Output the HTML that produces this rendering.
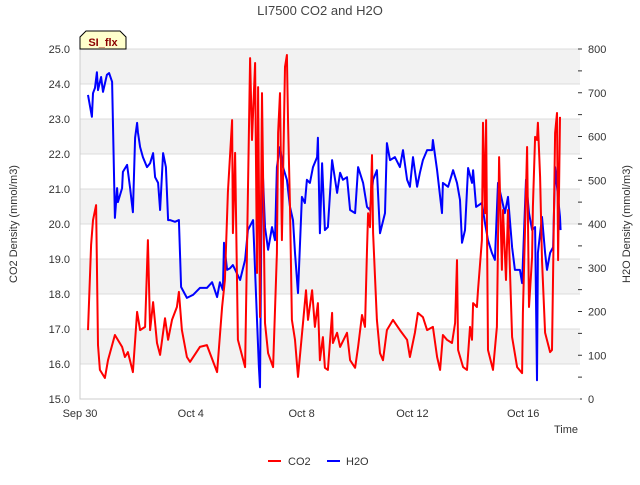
<!DOCTYPE html>
<html><head><meta charset="utf-8"><style>
body{margin:0;background:#fff;}
svg text{font-family:"Liberation Sans",sans-serif;}
</style></head><body>
<svg id="chart" width="640" height="480" viewBox="0 0 640 480" xmlns="http://www.w3.org/2000/svg">
<text x="320" y="15" text-anchor="middle" font-size="13" fill="#444">LI7500 CO2 and H2O</text>
<g id="grid"></g>
<g id="axes"></g>
<g id="series"></g>
<text transform="translate(17,224) rotate(-90)" text-anchor="middle" font-size="11" fill="#333">CO2 Density (mmol/m3)</text>
<text transform="translate(630,224) rotate(-90)" text-anchor="middle" font-size="11" fill="#333">H2O Density (mmol/m3)</text>
<text x="566" y="433" text-anchor="middle" font-size="11" fill="#333">Time</text>
<g>
<path d="M80,49 L80,37 L86,31 L120,31 L126,37 L126,49 Z" fill="#ffffcc" stroke="#000" stroke-width="1"/>
<text x="103" y="46" text-anchor="middle" font-size="11" font-weight="bold" fill="#8b0000">SI_flx</text>
</g>
<g>
<g><line x1="268" y1="461" x2="281" y2="461" stroke="#f00" stroke-width="2"/><text x="288" y="465" font-size="11" fill="#333">CO2</text></g>
<g><line x1="327" y1="461" x2="340" y2="461" stroke="#00f" stroke-width="2"/><text x="346" y="465" font-size="11" fill="#333">H2O</text></g>
</g>
</svg>
<script>
const xTickLabels=["Sep 30","Oct 4","Oct 8","Oct 12","Oct 16"];
const xTickDays=[0,4,8,12,16];
const leftTicks=[15,16,17,18,19,20,21,22,23,24,25];
const rightTicks=[0,100,200,300,400,500,600,700,800];
const co2Days=[0.29,0.40,0.47,0.58,0.65,0.72,0.90,1.01,1.26,1.52,1.62,1.73,1.91,2.06,2.17,2.35,2.45,2.53,2.64,2.78,2.89,3.07,3.18,3.32,3.50,3.57,3.68,3.86,3.97,4.33,4.58,4.95,5.13,5.23,5.34,5.49,5.52,5.60,5.70,5.96,6.14,6.21,6.32,6.39,6.43,6.50,6.57,6.68,6.79,6.97,7.11,7.15,7.22,7.29,7.40,7.47,7.51,7.58,7.65,7.76,7.87,8.05,8.16,8.23,8.38,8.48,8.59,8.66,8.77,8.84,8.95,9.10,9.13,9.28,9.39,9.64,9.75,9.93,10.04,10.18,10.29,10.36,10.40,10.47,10.54,10.58,10.65,10.72,10.83,10.94,11.08,11.30,11.55,11.81,11.91,12.09,12.20,12.38,12.53,12.74,12.89,13.00,13.10,13.25,13.43,13.54,13.61,13.65,13.83,13.97,14.08,14.15,14.19,14.33,14.37,14.51,14.55,14.62,14.66,14.73,14.91,15.05,15.13,15.23,15.27,15.38,15.45,15.60,15.78,15.96,15.99,16.14,16.21,16.32,16.35,16.43,16.50,16.53,16.61,16.68,16.79,16.97,17.04,17.08,17.15,17.22,17.26,17.33];
const co2Values=[16.97,19.40,20.11,20.54,16.54,15.83,15.60,16.11,16.83,16.49,16.20,16.34,15.77,17.49,16.97,17.06,19.54,16.97,17.77,16.60,16.26,17.31,16.69,17.26,17.63,18.06,16.97,16.20,16.06,16.49,16.54,15.77,17.63,18.40,20.91,22.97,19.74,22.03,16.69,15.91,24.74,22.40,24.60,18.60,23.91,17.34,23.74,17.17,16.31,15.91,19.17,22.60,23.74,19.54,24.49,24.83,22.97,20.49,17.26,16.69,15.63,17.17,18.11,17.26,18.11,17.06,17.74,16.11,16.77,15.89,15.83,17.46,16.60,16.89,16.49,16.89,16.11,15.89,16.49,17.40,17.06,19.26,20.31,19.91,21.97,19.74,18.49,17.26,16.31,16.11,16.97,17.26,16.97,16.69,16.20,16.89,17.46,17.34,16.97,17.06,16.20,15.83,16.83,16.69,16.60,17.17,18.97,16.40,15.91,15.83,17.06,16.69,17.74,17.63,18.11,19.54,22.89,20.31,22.97,16.40,15.83,17.06,21.91,18.69,20.40,18.40,20.40,16.77,15.91,15.74,17.46,22.20,17.63,19.06,20.49,22.49,22.40,22.89,21.34,18.97,16.89,16.34,16.40,18.60,22.60,23.17,18.97,23.06];
const h2oDays=[0.29,0.43,0.47,0.54,0.61,0.65,0.76,0.83,0.97,1.05,1.16,1.26,1.34,1.37,1.52,1.55,1.70,1.81,1.91,1.99,2.06,2.09,2.17,2.27,2.42,2.53,2.64,2.71,2.82,2.89,3.00,3.10,3.18,3.25,3.43,3.57,3.65,3.86,4.08,4.33,4.58,4.77,4.95,5.05,5.16,5.20,5.31,5.42,5.52,5.78,5.96,6.06,6.25,6.39,6.46,6.50,6.57,6.68,6.79,6.93,7.04,7.11,7.22,7.33,7.47,7.58,7.69,7.76,7.87,8.01,8.12,8.19,8.30,8.41,8.56,8.59,8.66,8.74,8.84,8.95,9.10,9.28,9.39,9.49,9.64,9.75,9.93,10.04,10.22,10.36,10.47,10.58,10.72,10.83,11.01,11.08,11.19,11.37,11.55,11.66,11.81,11.91,12.02,12.17,12.27,12.38,12.53,12.71,12.74,12.89,13.07,13.10,13.29,13.47,13.61,13.72,13.79,13.90,14.01,14.15,14.19,14.30,14.51,14.62,14.73,14.87,14.98,15.09,15.23,15.34,15.45,15.60,15.70,15.88,15.96,16.10,16.21,16.32,16.43,16.50,16.53,16.68,16.79,16.86,16.97,17.08,17.15,17.22,17.33,17.35];
const h2oValues=[695,645,699,711,747,706,736,702,741,745,725,414,482,450,482,519,535,482,427,597,631,610,576,553,530,539,562,507,494,432,562,530,409,409,405,409,256,231,238,254,254,267,233,267,249,357,295,299,306,272,318,386,409,181,73,27,562,393,341,393,363,530,576,530,501,439,409,334,242,462,448,501,494,530,553,597,379,539,386,393,546,471,517,501,507,432,425,530,494,439,432,501,523,379,425,585,546,553,530,569,501,485,553,485,517,546,569,569,592,523,425,494,485,523,494,455,357,386,528,494,523,439,448,402,363,334,318,494,455,425,462,347,295,295,265,501,425,386,393,43,334,416,334,295,334,347,530,485,416,386];

const NS="http://www.w3.org/2000/svg";
const X0=80,X1=580,Y0=49,Y1=399,PXDAY=27.7;
const xs=d=>X0+d*PXDAY;
const yL=v=>Y1-(v-15)/10*(Y1-Y0);
const yR=v=>Y1-v/800*(Y1-Y0);
function mk(tag,attrs,parent){const e=document.createElementNS(NS,tag);for(const k in attrs)e.setAttribute(k,attrs[k]);parent.appendChild(e);return e;}
const grid=document.getElementById('grid'),axes=document.getElementById('axes'),series=document.getElementById('series');
for(let i=0;i<leftTicks.length-1;i++){
  if(leftTicks[i]%2===0){
    const r=mk('rect',{x:X0,y:yL(leftTicks[i]+1),width:X1-X0,height:yL(leftTicks[i])-yL(leftTicks[i]+1),fill:'#f2f2f2'},grid);
    
    
  }
}
leftTicks.forEach(v=>{
  const l=mk('line',{x1:X0,x2:X1,y1:yL(v),y2:yL(v),stroke:'#dcdcdc','stroke-width':1},grid);
  
  
  const t=mk('text',{x:X0-10,y:yL(v)+4,'text-anchor':'end','font-size':11,fill:'#333'},axes);
  t.textContent=v.toFixed(1);
  
  
});
rightTicks.forEach(v=>{
  const t=mk('text',{x:X1+8,y:yR(v)+4,'font-size':11,fill:'#333'},axes);
  t.textContent=v;
  
  
});
for(let v=0;v<=800;v+=50){
  const l=mk('line',{x1:X1-2,x2:X1+2,y1:yR(v),y2:yR(v),stroke:'#333','stroke-width':1},axes);
  
  
}
xTickDays.forEach((d,i)=>{
  const t=mk('text',{x:xs(d),y:417,'text-anchor':'middle','font-size':11,fill:'#333'},axes);
  t.textContent=xTickLabels[i];
  
  
});
const ax=mk('path',{d:`M${X0},${Y0} L${X0},${Y1} L${X1},${Y1}`,fill:'none',stroke:'#ccc','stroke-width':1},axes);


function line(days,vals,yf,color,name){
  const d=days.map((t,i)=>(i?'L':'M')+xs(t).toFixed(1)+','+yf(vals[i]).toFixed(1)).join(' ');
  const p=mk('path',{d:d,fill:'none',stroke:color,'stroke-width':2,'stroke-linejoin':'round'},series);
  
  
}
line(h2oDays,h2oValues,yR,'#0000ff','h2o-line');
line(co2Days,co2Values,yL,'#ff0000','co2-line');
</script>
</body></html>
